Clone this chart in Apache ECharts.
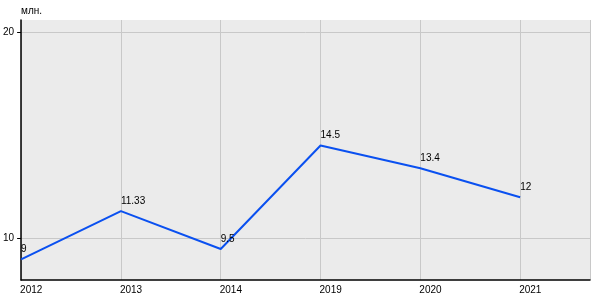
<!DOCTYPE html>
<html><head><meta charset="utf-8">
<script src="https://cdn.jsdelivr.net/npm/echarts@6/dist/echarts.min.js"></script>
<style>html,body{margin:0;padding:0;background:#fff}#c{width:600px;height:300px}</style>
</head><body><div id="c"></div>
<script>
const categories = ['2012', '2013', '2014', '2019', '2020', '2021'];
const values = [9, 11.33, 9.5, 14.5, 13.4, 12];
const yTicks = [10, 20];
const unitLabel = 'млн.';

const chart = echarts.init(document.getElementById('c'), null, {renderer: 'canvas'});
const font = 'Liberation Sans, Arial, sans-serif';
chart.setOption({
  animation: false,
  grid: {left: 20, right: 10, top: 20, bottom: 20, show: true, backgroundColor: '#ebebeb', borderWidth: 0},
  xAxis: {
    type: 'value', min: 0, max: 5.7, interval: 1,
    axisLine: {show: true, onZero: false, lineStyle: {color: '#000', width: 1.5}},
    axisTick: {show: false},
    splitLine: {show: true, lineStyle: {color: '#c8c8c8', width: 1}},
    axisLabel: {
      customValues: categories.map((c, i) => i),
      formatter: v => categories[Math.round(v)] ?? '',
      align: 'left', margin: 5, color: '#000', fontSize: 10, fontFamily: font,
      padding: [0, 0, 0, -1]
    }
  },
  yAxis: {
    type: 'value', min: 8, max: 20.57,
    name: unitLabel, nameLocation: 'end', nameGap: 5,
    nameTextStyle: {align: 'left', verticalAlign: 'bottom', color: '#000', fontSize: 10, fontFamily: font, padding: [0, 0, -1, 0]},
    axisLine: {show: true, onZero: false, lineStyle: {color: '#000', width: 1.5}},
    axisTick: {show: true, length: 4, customValues: yTicks, lineStyle: {color: '#000'}},
    splitLine: {show: true, lineStyle: {color: '#c8c8c8', width: 1}},
    axisLabel: {customValues: yTicks, margin: 7, color: '#000', fontSize: 10, fontFamily: font}
  },
  series: [{
    type: 'line',
    data: values.map((v, i) => [i, v]),
    symbol: 'circle', symbolSize: 2, showSymbol: true, showAllSymbol: true,
    lineStyle: {color: '#0a50f0', width: 2},
    itemStyle: {color: 'rgba(0,0,0,0)', borderWidth: 0},
    label: {
      show: true, position: 'top', align: 'left',
      distance: 4, color: '#000', fontSize: 10, fontFamily: font,
      formatter: p => String(p.value[1])
    }
  }]
});
</script></body></html>
